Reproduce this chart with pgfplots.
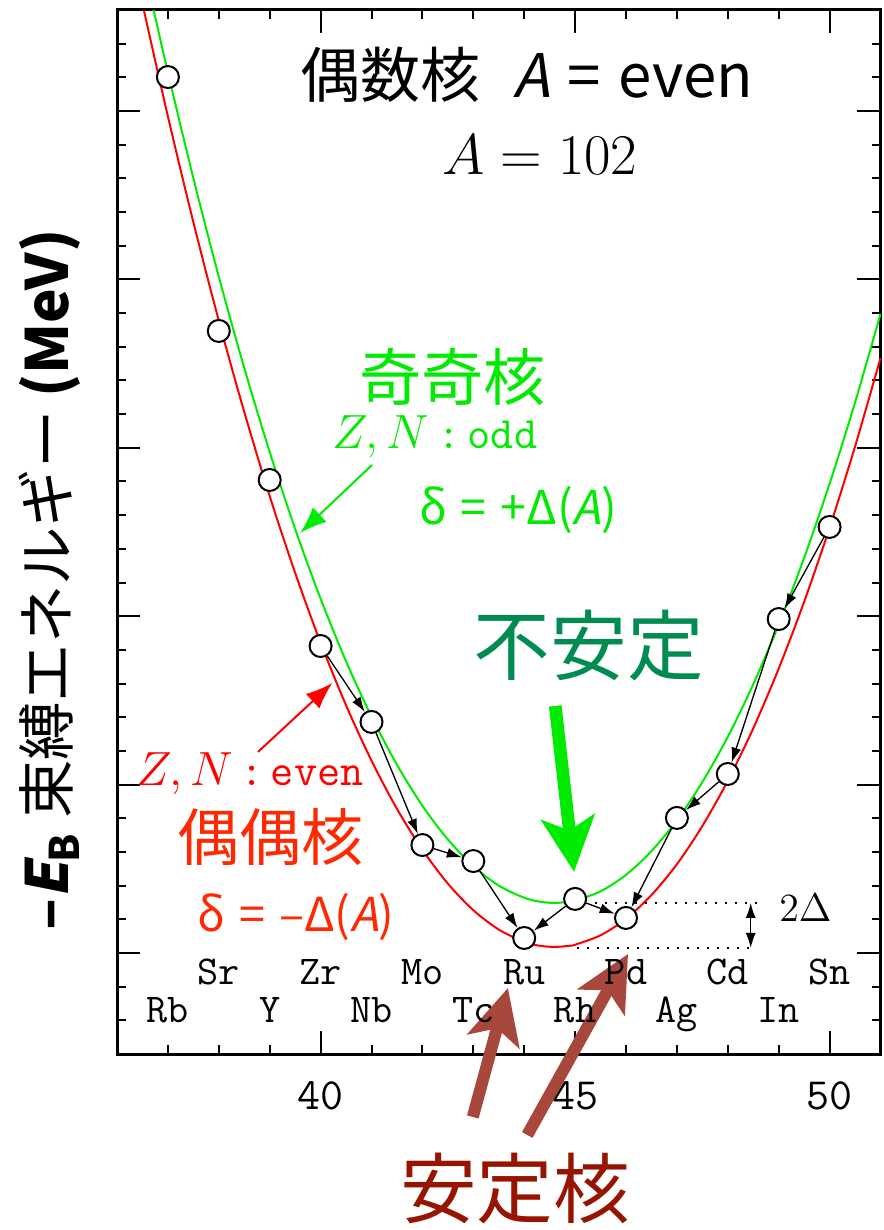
\documentclass[border=0pt]{standalone}
\usepackage{fontspec}
\usepackage{pgfplots}
\pgfplotsset{compat=1.18}
\usetikzlibrary{arrows.meta}
\newfontfamily\cjk{Noto Sans CJK JP}
\newfontfamily\cjkit[FakeSlant=0.2]{Noto Sans CJK JP}
\definecolor{cgreen}{RGB}{0,235,0}
\definecolor{cred}{RGB}{255,0,0}
\definecolor{cred2}{RGB}{255,40,0}
\definecolor{dkgreen}{RGB}{0,140,80}
\definecolor{brownarrow}{RGB}{168,72,60}
\definecolor{dkred}{RGB}{150,20,0}
\tikzset{elem/.style={anchor=base, font=\fontsize{12.3}{13}\selectfont\ttfamily}}
\pgfplotsset{decay/.style={black, line width=0.4pt, -{Latex[length=4.5pt,width=3pt]}, shorten <=3.6pt, shorten >=3.6pt}}
\begin{document}
\begin{tikzpicture}
\begin{axis}[
  at={(0,0)}, anchor=south west,
  scale only axis, width=229.05pt, height=313.2pt,
  xmin=36, xmax=51, ymin=-0.6, ymax=5.6,
  clip=false,
  axis line style={line width=0.9pt},
  major tick style={black, line width=0.6pt},
  minor tick style={black, line width=0.6pt},
  major tick length=7pt, minor tick length=2.7pt,
  tick align=inside,
  xtick={40,45,50}, xticklabels={40,45,50},
  minor xtick={37,38,39,41,42,43,44,46,47,48,49},
  ytick={0,1,2,3,4,5}, yticklabels={,,,,,},
  minor ytick={-0.4,-0.2,0.2,0.4,0.6,0.8,1.2,1.4,1.6,1.8,2.2,2.4,2.6,2.8,3.2,3.4,3.6,3.8,4.2,4.4,4.6,4.8,5.2,5.4},
  xticklabel style={font=\fontsize{13.4}{14}\selectfont\ttfamily, anchor=base, yshift=-16.5pt},
  ylabel={\fontsize{17.5}{19}\selectfont\cjk{\bfseries –{\cjkit\bfseries E}\textsubscript{B}}\ 束縛エネルギー\ {\bfseries (MeV)}},
  ylabel style={at={(axis description cs:-0.0878,0.454)}, anchor=center},
]
% curves
\addplot[cred, line width=0.6pt, smooth] coordinates {
(36.53,5.596) (37,4.968) (37.5,4.340) (38,3.755) (38.5,3.213) (39,2.713) (39.5,2.257)
(40,1.842) (40.5,1.471) (41,1.142) (41.5,0.856) (42,0.613) (42.5,0.412) (43,0.254)
(43.5,0.139) (44,0.066) (44.3,0.043) (44.6,0.036) (44.9,0.043) (45,0.049) (45.5,0.105) (46,0.203)
(46.5,0.344) (47,0.527) (47.5,0.754) (48,1.023) (48.5,1.334) (49,1.689) (49.5,2.086)
(50,2.526) (50.5,3.008) (51,3.533)};
\addplot[cgreen, line width=0.6pt, smooth] coordinates {
(36.72,5.600) (37,5.229) (37.5,4.601) (38,4.016) (38.5,3.474) (39,2.975) (39.5,2.518)
(40,2.104) (40.5,1.732) (41,1.404) (41.5,1.118) (42,0.874) (42.5,0.674) (43,0.516)
(43.5,0.400) (44,0.328) (44.3,0.305) (44.6,0.297) (44.9,0.305) (45,0.311) (45.5,0.366) (46,0.464)
(46.5,0.605) (47,0.789) (47.5,1.015) (48,1.284) (48.5,1.596) (49,1.950) (49.5,2.347)
(50,2.787) (50.5,3.269) (51,3.795)};
% decay arrows
\addplot[decay] coordinates {(40,1.823) (41,1.372)};
\addplot[decay] coordinates {(41,1.372) (42,0.641)};
\addplot[decay] coordinates {(42,0.641) (43,0.546)};
\addplot[decay] coordinates {(43,0.546) (44,0.089)};
\addplot[decay] coordinates {(45,0.321) (44,0.089)};
\addplot[decay] coordinates {(45,0.321) (46,0.208)};
\addplot[decay] coordinates {(47,0.802) (46,0.208)};
\addplot[decay] coordinates {(48,1.063) (47,0.802)};
\addplot[decay] coordinates {(49,1.983) (48,1.063)};
\addplot[decay] coordinates {(50,2.530) (49,1.983)};
% points
\addplot[only marks, mark=*, mark size=3.3pt, mark options={fill=white, draw=black, line width=0.6pt}] coordinates {
(37,5.202) (38,3.694) (39,2.809) (40,1.823) (41,1.372) (42,0.641) (43,0.546)
(44,0.089) (45,0.321) (46,0.208) (47,0.802) (48,1.063) (49,1.983) (50,2.530)};
% 2 Delta
\addplot[black, line width=0.5pt, dash pattern=on 0.6pt off 2.4pt] coordinates {(45.39,0.297) (48.57,0.297)};
\addplot[black, line width=0.5pt, dash pattern=on 0.6pt off 2.4pt] coordinates {(45.04,0.030) (48.57,0.030)};
\addplot[black, line width=0.4pt, {Latex[length=4.5pt,width=3pt]}-{Latex[length=4.5pt,width=3pt]}] coordinates {(48.45,0.297) (48.45,0.030)};
\node[anchor=west, font=\fontsize{13}{14}\selectfont] at (axis cs:48.78,0.27) {$2\Delta$};
% titles
\node[font=\fontsize{18}{20}\selectfont\cjk] at (axis cs:44.05,5.214) {偶数核\hspace{0.55em}{\cjkit A}\hspace{0.3em}=\hspace{0.3em}even};
\node[font=\fontsize{16.5}{18}\selectfont] at (axis cs:44.31,4.739) {$A=102$};
% odd-odd
\node[font=\fontsize{18.6}{20}\selectfont\cjk, text=cgreen] at (axis cs:42.59,3.420) {奇奇核};
\node[font=\fontsize{13.5}{15}\selectfont, text=cgreen] at (axis cs:42.25,3.064) {$Z, N$\,\texttt{:\,odd}};
\node[font=\fontsize{14}{16}\selectfont\cjk, text=cgreen] at (axis cs:43.88,2.631) {δ\hspace{0.3em}=\hspace{0.3em}+Δ({\cjkit A})};
\addplot[cgreen, line width=0.6pt, -{Latex[length=8pt,width=6pt]}] coordinates {(41.01,2.898) (39.6,2.494)};
% even-even
\addplot[cred, line width=0.6pt, -{Latex[length=8pt,width=6pt]}] coordinates {(38.77,1.194) (40.23,1.603)};
\node[font=\fontsize{13.5}{15}\selectfont, text=cred] at (axis cs:38.61,1.063) {$Z, N$\,\texttt{:\,even}};
\node[font=\fontsize{18.6}{20}\selectfont\cjk, text=cred2] at (axis cs:39.01,0.689) {偶偶核};
\node[font=\fontsize{14}{16}\selectfont\cjk, text=cred2] at (axis cs:39.52,0.214) {δ\hspace{0.3em}=\hspace{0.3em}–Δ({\cjkit A})};
% unstable
\node[font=\fontsize{23}{25}\selectfont\cjk, text=dkgreen] at (axis cs:45.27,1.823) {不安定};
\addplot[cgreen, line width=3.8pt, -{Stealth[length=16.5pt,width=16pt,inset=4pt]}] coordinates {(44.61,1.467) (44.98,0.481)};
% stable
\addplot[brownarrow, line width=3.6pt, -{Stealth[length=16.5pt,width=16pt,inset=4pt]}] coordinates {(42.99,-0.974) (43.68,-0.208)};
\addplot[brownarrow, line width=3.6pt, -{Stealth[length=16.5pt,width=16pt,inset=4pt]}] coordinates {(44.06,-1.081) (46.04,-0.006)};
\node[font=\fontsize{23}{25}\selectfont\cjk, text=dkred] at (axis cs:43.82,-1.396) {安定核};
% element labels
\node[elem] at (axis cs:38,-0.190) {Sr};
\node[elem] at (axis cs:40,-0.190) {Zr};
\node[elem] at (axis cs:42,-0.190) {Mo};
\node[elem] at (axis cs:44,-0.190) {Ru};
\node[elem] at (axis cs:46,-0.190) {Pd};
\node[elem] at (axis cs:48,-0.190) {Cd};
\node[elem] at (axis cs:50,-0.190) {Sn};
\node[elem] at (axis cs:37,-0.410) {Rb};
\node[elem] at (axis cs:39,-0.410) {Y};
\node[elem] at (axis cs:41,-0.410) {Nb};
\node[elem] at (axis cs:43,-0.410) {Tc};
\node[elem] at (axis cs:45,-0.410) {Rh};
\node[elem] at (axis cs:47,-0.410) {Ag};
\node[elem] at (axis cs:49,-0.410) {In};
\end{axis}
\pgfresetboundingbox
\path (-35.1pt,-52.8pt) rectangle (229.8pt,316.2pt);
\end{tikzpicture}
\end{document}
